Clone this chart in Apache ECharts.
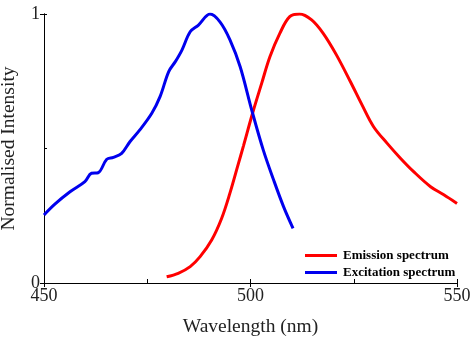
<!DOCTYPE html>
<html><head><meta charset="utf-8">
<script src="https://cdn.jsdelivr.net/npm/echarts@6/dist/echarts.min.js"></script>
<style>html,body{margin:0;padding:0;background:#fff}#c{width:474px;height:338px}</style>
</head><body><div id="c"></div>
<script>
const xTicks = [450, 500, 550];
const yTicks = [0, 1];
const excitationX = [450, 452.7, 456.3, 459.9, 461.5, 463.1, 465.2, 466.8, 468.8, 470.8, 473.2, 476.1, 478.1, 480.2, 481.8, 483.4, 485.4, 487.4, 490.2, 492.6, 495.0, 497.5, 500.3, 503.1, 505.6, 508.0, 510.3];
const excitationY = [0.253, 0.294, 0.339, 0.377, 0.408, 0.41, 0.46, 0.467, 0.482, 0.525, 0.569, 0.631, 0.693, 0.786, 0.823, 0.866, 0.934, 0.959, 1.0, 0.971, 0.905, 0.804, 0.643, 0.494, 0.383, 0.284, 0.203];
const emissionX = [479.7, 482.5, 485.4, 487.8, 490.6, 493.0, 495.0, 497.0, 498.3, 500.5, 502.7, 504.7, 507.1, 509.5, 511.9, 514.8, 517.6, 520.8, 524.2, 527.0, 529.8, 533.1, 536.3, 539.5, 543.6, 546.8, 550.0];
const emissionY = [0.023, 0.036, 0.061, 0.098, 0.16, 0.24, 0.333, 0.44, 0.51, 0.631, 0.742, 0.841, 0.928, 0.99, 1.0, 0.978, 0.928, 0.848, 0.748, 0.662, 0.581, 0.519, 0.464, 0.414, 0.358, 0.328, 0.296];
const seriesNames = ['Emission spectrum', 'Excitation spectrum'];

const pairs = (xs, ys) => xs.map((x, i) => [x, ys[i]]);
const font = 'Liberation Serif';
const chart = echarts.init(document.getElementById('c'));
const axisBase = {
  axisLine: {show: true, lineStyle: {color: '#000', width: 1}},
  splitLine: {show: false}
};
chart.setOption({
  animation: false,
  grid: {left: 44, right: 17, top: 14, bottom: 55, containLabel: false, outerBoundsMode: 'none'},
  legend: {
    orient: 'vertical', left: 300, top: 244, itemGap: 4,
    itemWidth: 32, itemHeight: 3, icon: 'rect',
    textStyle: {fontFamily: font, fontWeight: 'bold', fontSize: 13, color: '#000', padding: [0, 0, 0, 1]},
    data: seriesNames
  },
  xAxis: [{
    ...axisBase,
    type: 'value', min: 450, max: 550, interval: 50,
    name: 'Wavelength (nm)', nameLocation: 'middle', nameGap: 34,
    nameTextStyle: {fontFamily: font, fontSize: 19.5, color: '#222'},
    axisTick: {show: true, length: 4, lineStyle: {color: '#000'}},
    axisLabel: {fontFamily: font, fontSize: 18, color: '#222', margin: 4,
      formatter: v => xTicks.includes(v) ? String(v) : ''}
  }, {
    ...axisBase,
    type: 'value', min: 450, max: 550, interval: 25, position: 'bottom',
    axisTick: {show: true, inside: true, length: 4, lineStyle: {color: '#000'}},
    axisLabel: {show: false}
  }],
  yAxis: [{
    ...axisBase,
    type: 'value', min: 0, max: 1, interval: 1,
    name: 'Normalised Intensity', nameLocation: 'middle', nameGap: 25,
    nameTextStyle: {fontFamily: font, fontSize: 19.5, color: '#222'},
    axisTick: {show: true, length: 4, lineStyle: {color: '#000'}},
    axisLabel: {fontFamily: font, fontSize: 18, color: '#222', margin: 4,
      formatter: v => yTicks.includes(v) ? String(v) : ''}
  }, {
    ...axisBase,
    type: 'value', min: 0, max: 1, interval: 0.5, position: 'left',
    axisTick: {show: true, inside: true, length: 3, lineStyle: {color: '#000'}},
    axisLabel: {show: false}
  }],
  series: [
    {name: seriesNames[0], type: 'line', smooth: 0.35, symbol: 'none',
     color: '#ff0000', lineStyle: {width: 3, color: '#ff0000'},
     data: pairs(emissionX, emissionY)},
    {name: seriesNames[1], type: 'line', smooth: 0.35, symbol: 'none',
     color: '#0000ee', lineStyle: {width: 3, color: '#0000ee'},
     data: pairs(excitationX, excitationY)}
  ]
});
</script></body></html>
